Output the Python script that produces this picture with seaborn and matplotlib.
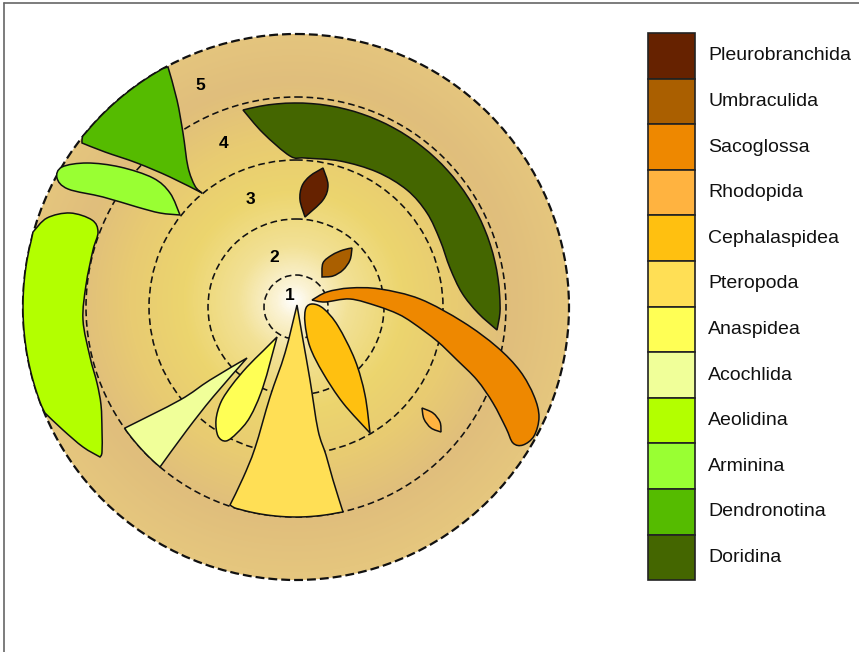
import numpy as np
import matplotlib
matplotlib.use("Agg")
import matplotlib.pyplot as plt
from matplotlib.path import Path
from matplotlib.patches import PathPatch, Circle, Rectangle
from matplotlib.colors import LinearSegmentedColormap
import seaborn as sns

# legend entries, top to bottom
taxa = ["Pleurobranchida", "Umbraculida", "Sacoglossa", "Rhodopida",
        "Cephalaspidea", "Pteropoda", "Anaspidea", "Acochlida",
        "Aeolidina", "Arminina", "Dendronotina", "Doridina"]
hex_colours = ["#662200", "#AA5F00", "#EE8800", "#FFB340",
               "#FFC010", "#FFDF55", "#FFFF55", "#F0FF99",
               "#B3FF00", "#99FF33", "#55BB00", "#446600"]

# concentric levels (pixel units of the picture)
centre = (296, 307)
ring_radii = [32, 88, 147, 210, 273]
ring_labels = ["1", "2", "3", "4", "5"]
ring_label_xy = [(290, 295), (274, 257), (250, 199), (224, 144), (200, 86)]

# outlines of each group: list of edges, an edge is ("pts", [...]) or ("arc", r, start, end)
dendronotina = [("arc", 273, (82, 143), (168, 67)),
                ("pts", [(168, 67), (177, 100), (183, 133), (188, 167), (195, 186), (202, 193)]),
                ("pts", [(202, 193), (170, 177), (137, 163), (105, 152), (82, 143)])]
arminina = [("pts", [(180, 215), (170, 193), (153, 178), (120, 167), (87, 163), (62, 167),
                     (57, 178), (68, 189), (103, 197), (137, 207), (160, 213), (180, 215)])]
aeolidina = [("arc", 273, (45, 413), (33, 232)),
             ("pts", [(33, 232), (47, 218), (70, 213), (92, 220), (98, 232), (93, 250),
                      (86, 285), (83, 320), (90, 357), (97, 383), (101, 405), (102, 430),
                      (102, 452), (100, 457)]),
             ("pts", [(100, 457), (83, 447), (63, 430), (45, 413)])]
doridina = [("arc", 204, (243, 110), (497, 330)),
            ("pts", [(497, 330), (478, 313), (462, 293), (450, 268), (440, 240), (427, 213),
                     (407, 190), (377, 172), (340, 161), (305, 158), (290, 156), (263, 133),
                     (243, 110)])]
pleurobranchida = [("pts", [(323, 168), (328, 185), (323, 200), (305, 217)]),
                   ("pts", [(305, 217), (300, 200), (302, 186), (310, 176), (323, 168)])]
umbraculida = [("pts", [(352, 248), (350, 260), (343, 270), (333, 276), (322, 277)]),
               ("pts", [(322, 277), (323, 263), (332, 255), (343, 250), (352, 248)])]
sacoglossa = [("pts", [(312, 300), (327, 292), (350, 288), (380, 289), (420, 299), (463, 322),
                       (497, 347), (520, 371), (534, 396), (539, 417), (534, 436), (523, 445),
                       (513, 443), (506, 428), (493, 403), (477, 380), (457, 360), (437, 341),
                       (413, 323), (398, 314), (377, 306), (350, 299), (325, 302), (312, 300)])]
rhodopida = [("pts", [(422, 408), (433, 413), (440, 422), (441, 432)]),
             ("pts", [(441, 432), (431, 428), (424, 419), (422, 408)])]
cephalaspidea = [("pts", [(370, 433), (343, 403), (323, 373), (310, 347), (305, 323),
                          (306, 308), (313, 304), (324, 309), (338, 326), (355, 360),
                          (365, 395), (370, 433)])]
pteropoda = [("pts", [(297, 305), (285, 353), (270, 397), (255, 448), (243, 478), (230, 505)]),
             ("arc", 210, (230, 505), (343, 512)),
             ("pts", [(343, 512), (333, 480), (326, 455), (318, 430), (310, 380), (303, 340), (297, 305)])]
anaspidea = [("pts", [(277, 337), (263, 387), (250, 417), (237, 433), (226, 441), (218, 436),
                      (216, 420), (221, 402), (232, 385), (247, 367), (263, 351), (277, 337)])]
acochlida = [("pts", [(247, 358), (210, 380), (180, 400), (125, 428)]),
             ("arc", 210, (125, 428), (160, 467)),
             ("pts", [(160, 467), (187, 430), (213, 397), (247, 358)])]

shapes = {"Doridina": doridina, "Dendronotina": dendronotina, "Arminina": arminina,
          "Aeolidina": aeolidina, "Pleurobranchida": pleurobranchida,
          "Umbraculida": umbraculida, "Sacoglossa": sacoglossa, "Rhodopida": rhodopida,
          "Cephalaspidea": cephalaspidea, "Pteropoda": pteropoda,
          "Anaspidea": anaspidea, "Acochlida": acochlida}


def arc_points(r, p0, p1, n=24):
    a0 = np.arctan2(p0[1] - centre[1], p0[0] - centre[0])
    a1 = np.arctan2(p1[1] - centre[1], p1[0] - centre[0])
    d = (a1 - a0 + np.pi) % (2 * np.pi) - np.pi
    t = a0 + d * np.linspace(0, 1, n)
    pts = np.column_stack([centre[0] + r * np.cos(t), centre[1] + r * np.sin(t)])
    pts[0], pts[-1] = p0, p1
    return pts


def bezier_segments(pts):
    # catmull-rom through the points, as cubic bezier pieces
    pts = np.asarray(pts, float)
    n = len(pts)
    out = []
    for i in range(n - 1):
        p0 = pts[i - 1] if i > 0 else pts[i]
        p1, p2 = pts[i], pts[i + 1]
        p3 = pts[i + 2] if i + 2 < n else pts[i + 1]
        out += [p1 + (p2 - p0) / 6, p2 - (p3 - p1) / 6, p2]
    return out


def outline_path(edges):
    verts, codes = [], []
    for e in edges:
        pts = np.asarray(e[1], float) if e[0] == "pts" else arc_points(*e[1:])
        if not verts:
            verts.append(pts[0])
            codes.append(Path.MOVETO)
        seg = bezier_segments(pts)
        verts += seg
        codes += [Path.CURVE4] * len(seg)
    verts.append(verts[0])
    codes.append(Path.CLOSEPOLY)
    return Path(verts, codes)


sns.set_style("white")
plt.rcParams["font.family"] = ["Liberation Sans", "DejaVu Sans"]
palette = dict(zip(taxa, sns.color_palette(hex_colours)))

fig = plt.figure(figsize=(8.59, 6.52), dpi=100)
ax = fig.add_axes([0, 0, 1, 1])

# radial background
stops = [(0.0, "#FFFFFF"), (0.06, "#FBF3D6"), (0.2, "#F2E196"), (0.4, "#ECD56E"),
         (0.6, "#E8CB72"), (0.8, "#E0BE7C"), (1.0, "#E5C67E")]
bg_cmap = LinearSegmentedColormap.from_list("bg", stops)
yy, xx = np.mgrid[0:652, 0:859]
dist = np.clip(np.hypot(xx - 293, yy - 300) / ring_radii[-1], 0, 1)
im = ax.imshow(bg_cmap(dist), extent=(0, 859, 652, 0), zorder=0, interpolation="bilinear")
im.set_clip_path(Circle(centre, ring_radii[-1], transform=ax.transData))

for i, r in enumerate(ring_radii):
    outer = i == len(ring_radii) - 1
    ax.add_patch(Circle(centre, r, fill=False, ec="#111111",
                        lw=1.6 if outer else 1.15,
                        ls=(0, (4, 1.8)) if outer else (0, (4.2, 2.4)), zorder=2))

for name, edges in shapes.items():
    ax.add_patch(PathPatch(outline_path(edges), fc=palette[name], ec="#111111",
                           lw=1.1, zorder=3))

for lab, (x, y) in zip(ring_labels, ring_label_xy):
    ax.text(x, y, lab, ha="center", va="center", fontsize=12.5, fontweight="bold",
            color="#000000", zorder=4)

# legend column
box_top, box_h = 33, 45.6
for i, name in enumerate(taxa):
    y0 = box_top + i * box_h
    ax.add_patch(Rectangle((648, y0), 47, box_h, fc=palette[name], ec="#222222", lw=1.2, zorder=3))
    ax.text(708, y0 + box_h / 2, name, ha="left", va="center", fontsize=14, color="#111111")

# picture frame
ax.plot([4, 859], [3, 3], color="#666666", lw=1.2)
ax.plot([4, 4], [3, 652], color="#666666", lw=1.2)

ax.set_xlim(0, 859)
ax.set_ylim(652, 0)
ax.set_aspect("auto")
ax.axis("off")
fig.savefig("out.png", dpi=100, facecolor="white")
